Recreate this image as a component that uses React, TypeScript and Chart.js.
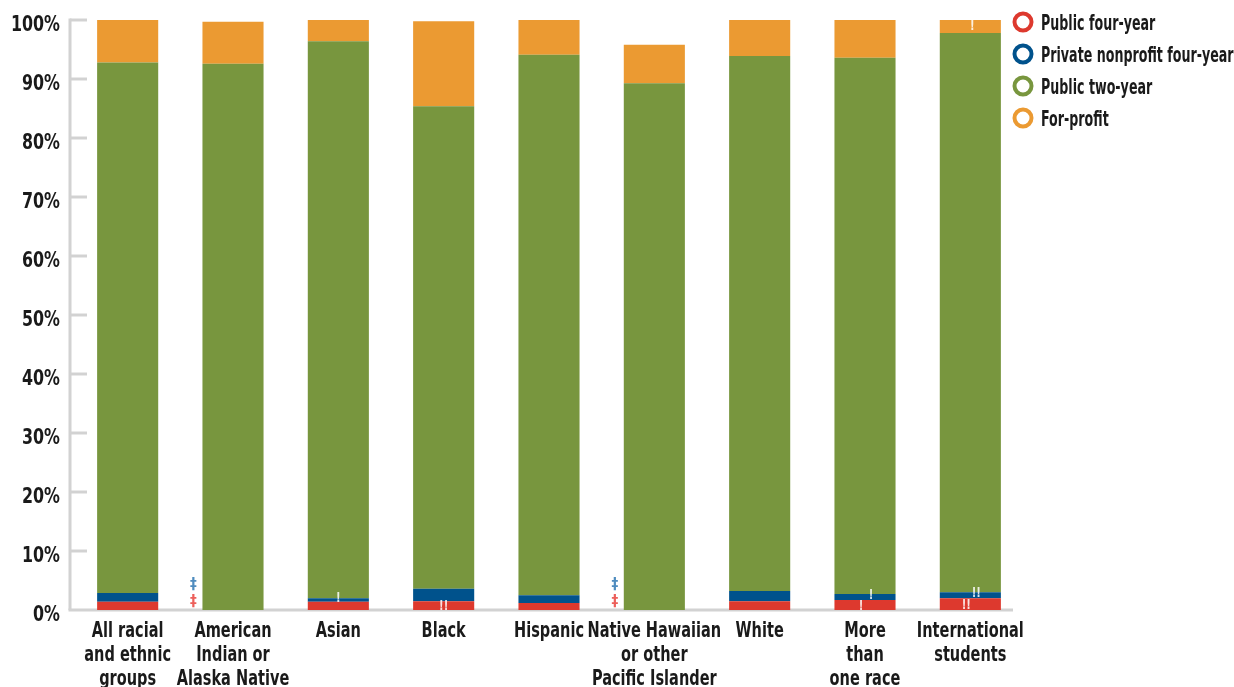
import React, { useEffect, useRef } from "react";
import { Chart, registerables } from "chart.js";

Chart.register(...registerables);

const categories: string[][] = [
  ["All racial", "and ethnic", "groups"],
  ["American", "Indian or", "Alaska Native"],
  ["Asian"],
  ["Black"],
  ["Hispanic"],
  ["Native Hawaiian", "or other", "Pacific Islander"],
  ["White"],
  ["More", "than", "one race"],
  ["International", "students"],
];

const seriesNames = ["Public four-year", "Private nonprofit four-year", "Public two-year", "For-profit"];

const publicFourYear = [1.4, 0, 1.4, 1.5, 1.2, 0, 1.5, 1.7, 2.0];
const privateNonprofit = [1.5, 0, 0.6, 2.1, 1.3, 0, 1.7, 1.0, 1.0];
const publicTwoYear = [89.9, 92.6, 94.4, 81.8, 91.6, 89.3, 90.7, 90.9, 94.8];
const forProfit = [7.2, 7.1, 3.6, 14.4, 5.9, 6.5, 6.1, 6.4, 2.2];

// notes: ‡ reporting standards not met, ! / !! interpret with caution
const publicFourYearNotes = ["", "‡", "", "!!", "", "‡", "", "!", "!!"];
const privateNonprofitNotes = ["", "‡", "!", "", "", "‡", "", "!", "!!"];
const publicTwoYearNotes = ["", "", "", "", "", "", "", "", ""];
const forProfitNotes = ["", "", "", "", "", "", "", "", "!"];

const yTicks = [0, 10, 20, 30, 40, 50, 60, 70, 80, 90, 100];
const yTickLabels = ["0%", "10%", "20%", "30%", "40%", "50%", "60%", "70%", "80%", "90%", "100%"];

const colors = ["#DD392E", "#00528C", "#78963E", "#EB9A32"];
const noteColors = ["#EC5F5A", "#4F8CBF", "#ffffff", "#ffffff"];

const FONT = "'DejaVu Sans Condensed', 'Liberation Sans Narrow', sans-serif";
const TEXT_COLOR = "#1a1a1a";

function condensedText(ctx: any, text: string, x: number, y: number, align: string, sx: number) {
  ctx.save();
  ctx.translate(x, y);
  ctx.scale(sx, 1);
  ctx.textAlign = align;
  ctx.fillText(text, 0, 0);
  ctx.restore();
}

const axisPlugin = {
  id: "customAxes",
  beforeDatasetsDraw(chart: any) {
    const { ctx, chartArea, scales } = chart;
    const y = scales.y;
    const x0 = chartArea.left - 5;
    ctx.save();
    ctx.strokeStyle = "#d2d2d2";
    ctx.lineWidth = 3;
    ctx.beginPath();
    ctx.moveTo(x0, y.getPixelForValue(100) - 1.5);
    ctx.lineTo(x0, chartArea.bottom);
    ctx.stroke();
    yTicks.forEach((t) => {
      if (t === 0) return;
      const py = y.getPixelForValue(t);
      ctx.beginPath();
      ctx.moveTo(x0, py);
      ctx.lineTo(x0 + 17, py);
      ctx.stroke();
    });
    ctx.beginPath();
    ctx.moveTo(x0 - 1.5, chartArea.bottom);
    ctx.lineTo(chartArea.right - 10, chartArea.bottom);
    ctx.stroke();
    ctx.restore();
  },
  afterDraw(chart: any) {
    const { ctx, chartArea, scales } = chart;
    ctx.save();
    ctx.fillStyle = TEXT_COLOR;
    ctx.textBaseline = "alphabetic";
    ctx.font = `bold 21px ${FONT}`;
    yTicks.forEach((t, i) => {
      const py = scales.y.getPixelForValue(t);
      condensedText(ctx, yTickLabels[i], chartArea.left - 15, py + 10.5, "right", 0.84);
    });
    categories.forEach((lines, i) => {
      const px = scales.x.getPixelForValue(i);
      lines.forEach((line, k) => {
        condensedText(ctx, line, px, chartArea.bottom + 27 + k * 24, "center", 0.77);
      });
    });
    ctx.restore();
  },
};

const notesPlugin = {
  id: "notes",
  afterDatasetsDraw(chart: any) {
    const { ctx } = chart;
    const allNotes = [publicFourYearNotes, privateNonprofitNotes, publicTwoYearNotes, forProfitNotes];
    ctx.save();
    ctx.textAlign = "center";
    ctx.textBaseline = "middle";
    allNotes.forEach((notes, d) => {
      const meta = chart.getDatasetMeta(d);
      meta.data.forEach((el: any, i: number) => {
        const note = notes[i];
        if (!note) return;
        const p = el.getProps(["x", "y", "base", "width"], true);
        if (note === "‡") {
          ctx.fillStyle = noteColors[d];
          ctx.font = `bold 15px ${FONT}`;
          ctx.fillText(note, p.x - p.width / 2 - 9, p.base - (d === 0 ? 8 : 25));
        } else {
          let off = 0;
          const both =
            publicFourYearNotes[i].startsWith("!") && privateNonprofitNotes[i].startsWith("!");
          if (both) off = d === 0 ? -4 : 6;
          if (d === 3) off = 2;
          ctx.fillStyle = "rgba(255,255,255,0.85)";
          ctx.font = `bold 14px ${FONT}`;
          const my = (p.y + p.base) / 2 + (d === 0 ? 1 : d === 1 ? -2 : 0);
          condensedText(ctx, note, p.x + off, my, "center", 0.8);
        }
      });
    });
    ctx.restore();
  },
};

const legendPlugin = {
  id: "customLegend",
  afterDraw(chart: any) {
    const { ctx } = chart;
    ctx.save();
    ctx.textBaseline = "alphabetic";
    ctx.font = `bold 21px ${FONT}`;
    chart.data.datasets.forEach((ds: any, i: number) => {
      const cy = 22 + i * 32;
      ctx.beginPath();
      ctx.arc(1023, cy, 8.5, 0, Math.PI * 2);
      ctx.fillStyle = "#ffffff";
      ctx.fill();
      ctx.lineWidth = 4;
      ctx.strokeStyle = ds.backgroundColor;
      ctx.stroke();
      ctx.fillStyle = TEXT_COLOR;
      condensedText(ctx, ds.label, 1041, cy + 7.5, "left", 0.67);
    });
    ctx.restore();
  },
};

export default function App() {
  const ref = useRef<HTMLCanvasElement>(null);
  useEffect(() => {
    document.body.style.margin = "0";
    const values = [publicFourYear, privateNonprofit, publicTwoYear, forProfit];
    const chart = new Chart(ref.current as HTMLCanvasElement, {
      type: "bar",
      data: {
        labels: categories.map((l) => l.join(" ")),
        datasets: values.map((v, i) => ({
          label: seriesNames[i],
          data: v,
          backgroundColor: colors[i],
          borderWidth: 0,
          barPercentage: 0.58,
          categoryPercentage: 1,
        })),
      },
      options: {
        responsive: false,
        animation: false,
        layout: { padding: { top: 20, right: 211, bottom: 0, left: 0 } },
        plugins: { legend: { display: false }, tooltip: { enabled: false } },
        scales: {
          x: {
            stacked: true,
            grid: { display: false, drawTicks: false },
            border: { display: false },
            ticks: { display: false },
            afterFit(scale: any) {
              scale.height = 77;
            },
          },
          y: {
            stacked: true,
            min: 0,
            max: 100,
            grid: { display: false, drawTicks: false },
            border: { display: false },
            ticks: { display: false, stepSize: 10 },
            afterFit(scale: any) {
              scale.width = 75;
            },
          },
        },
      },
      plugins: [axisPlugin, notesPlugin, legendPlugin],
    });
    return () => chart.destroy();
  }, []);
  return (
    <div style={{ width: 1234, height: 687 }}>
      <canvas ref={ref} width={1234} height={687} />
    </div>
  );
}
